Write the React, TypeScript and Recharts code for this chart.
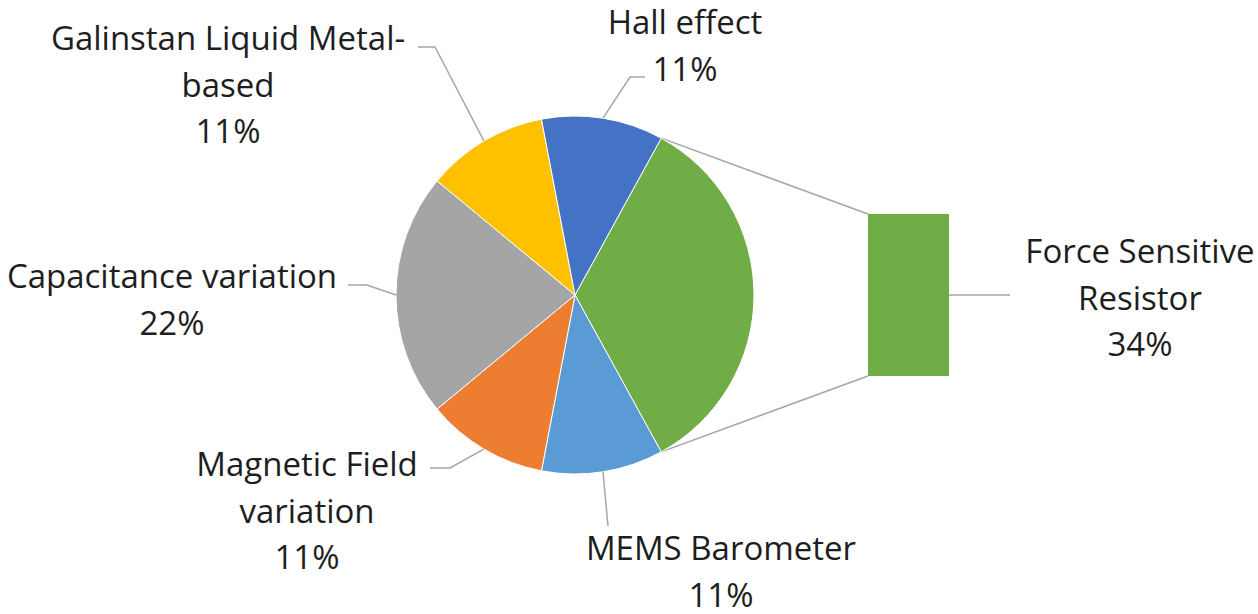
import { PieChart, Pie, Cell, BarChart, Bar, XAxis, YAxis } from 'recharts'

// slice order runs clockwise, starting with the slice that is split out into the bar
const categories = [
  'Force Sensitive Resistor',
  'MEMS Barometer',
  'Magnetic Field variation',
  'Capacitance variation',
  'Galinstan Liquid Metal-based',
  'Hall effect',
]
const shares = [34, 11, 11, 22, 11, 11]
const colors = ['#70AD47', '#5B9BD5', '#ED7D31', '#A5A5A5', '#FFC000', '#4472C4']

// wrapped label text, one entry per category
const labelLines = [
  ['Force Sensitive', 'Resistor'],
  ['MEMS Barometer'],
  ['Magnetic Field', 'variation'],
  ['Capacitance variation'],
  ['Galinstan Liquid Metal-', 'based'],
  ['Hall effect'],
]

// label placement: text centre x, first line centre y, leader elbow and leader end
const labelLayout = [
  { tx: 1140, ty: 250, elbow: [1010, 295], end: [1010, 295] },
  { tx: 721, ty: 547, elbow: [608, 526], end: [608, 526] },
  { tx: 307, ty: 463, elbow: [450, 468], end: [430, 468] },
  { tx: 172, ty: 275, elbow: [367, 285], end: [348, 285] },
  { tx: 228, ty: 37, elbow: [435, 47], end: [418, 47] },
  { tx: 685, ty: 21, elbow: [630, 77], end: [645, 77] },
]

const W = 1258
const H = 614
const PIE_CX = 575
const PIE_CY = 295
const PIE_R = 179
const BAR_BOX = { left: 868, top: 214, width: 81, height: 162 }
const LINE_H = 46.5
const FONT = '"Open Sans", sans-serif'
const FONT_SIZE = 33
const TEXT_COLOR = '#1e1e1e'
const LEADER = '#A6A6A6'
const RAD = Math.PI / 180

const pieData = categories.map((name, i) => ({ name, value: shares[i] }))
const barData = [{ name: categories[0], value: shares[0] }]

const total = shares.reduce((a, b) => a + b, 0)
const halfSplit = (shares[0] / total) * 180
const startAngle = halfSplit
const endAngle = halfSplit - 360

function LabelText({ i }: { i: number }) {
  const { tx, ty } = labelLayout[i]
  const lines = [...labelLines[i], `${shares[i]}%`]
  return (
    <text
      textAnchor="middle"
      dominantBaseline="central"
      fontFamily={FONT}
      fontSize={FONT_SIZE}
      fill={TEXT_COLOR}
    >
      {lines.map((l, k) => (
        <tspan key={k} x={tx} y={ty + k * LINE_H}>{l}</tspan>
      ))}
    </text>
  )
}

function renderSliceLabel(props: any) {
  const { cx, cy, midAngle, outerRadius, index } = props
  if (index === 0) return null
  const { elbow, end } = labelLayout[index]
  const ex = cx + outerRadius * Math.cos(-midAngle * RAD)
  const ey = cy + outerRadius * Math.sin(-midAngle * RAD)
  return (
    <g key={`lbl-${index}`}>
      <polyline
        points={`${ex},${ey} ${elbow[0]},${elbow[1]} ${end[0]},${end[1]}`}
        fill="none"
        stroke={LEADER}
        strokeWidth={1.5}
      />
      <LabelText i={index} />
    </g>
  )
}

// lines joining the split slice edges to the corners of the bar
function Connectors() {
  const top = [PIE_CX + PIE_R * Math.cos(startAngle * RAD), PIE_CY - PIE_R * Math.sin(startAngle * RAD)]
  const bot = [PIE_CX + PIE_R * Math.cos(startAngle * RAD), PIE_CY + PIE_R * Math.sin(startAngle * RAD)]
  const bx = BAR_BOX.left
  const barRightMid = [BAR_BOX.left + BAR_BOX.width, BAR_BOX.top + BAR_BOX.height / 2]
  const { elbow } = labelLayout[0]
  return (
    <svg width={W} height={H} style={{ position: 'absolute', left: 0, top: 0 }}>
      <line x1={top[0]} y1={top[1]} x2={bx} y2={BAR_BOX.top} stroke={LEADER} strokeWidth={1.5} />
      <line x1={bot[0]} y1={bot[1]} x2={bx} y2={BAR_BOX.top + BAR_BOX.height} stroke={LEADER} strokeWidth={1.5} />
      <line x1={barRightMid[0]} y1={barRightMid[1]} x2={elbow[0]} y2={elbow[1]} stroke={LEADER} strokeWidth={1.5} />
      <LabelText i={0} />
    </svg>
  )
}

export default function App() {
  return (
    <div style={{ position: 'absolute', left: 0, top: 0, width: W, height: H, background: '#fff' }}>
      <Connectors />
      <div style={{ position: 'absolute', left: 0, top: 0 }}>
        <PieChart width={W} height={H} margin={{ top: 0, right: 0, bottom: 0, left: 0 }}>
          <Pie
            data={pieData}
            dataKey="value"
            nameKey="name"
            cx={PIE_CX}
            cy={PIE_CY}
            outerRadius={PIE_R}
            startAngle={startAngle}
            endAngle={endAngle}
            stroke="#ffffff"
            strokeWidth={1}
            label={renderSliceLabel}
            labelLine={false}
            isAnimationActive={false}
          >
            {pieData.map((d, i) => (
              <Cell key={d.name} fill={colors[i]} />
            ))}
          </Pie>
        </PieChart>
      </div>
      <div style={{ position: 'absolute', left: BAR_BOX.left, top: BAR_BOX.top }}>
        <BarChart
          width={BAR_BOX.width}
          height={BAR_BOX.height}
          data={barData}
          margin={{ top: 0, right: 0, bottom: 0, left: 0 }}
          barCategoryGap={0}
        >
          <XAxis dataKey="name" hide />
          <YAxis hide domain={[0, shares[0]]} />
          <Bar dataKey="value" fill={colors[0]} isAnimationActive={false} />
        </BarChart>
      </div>
    </div>
  )
}
